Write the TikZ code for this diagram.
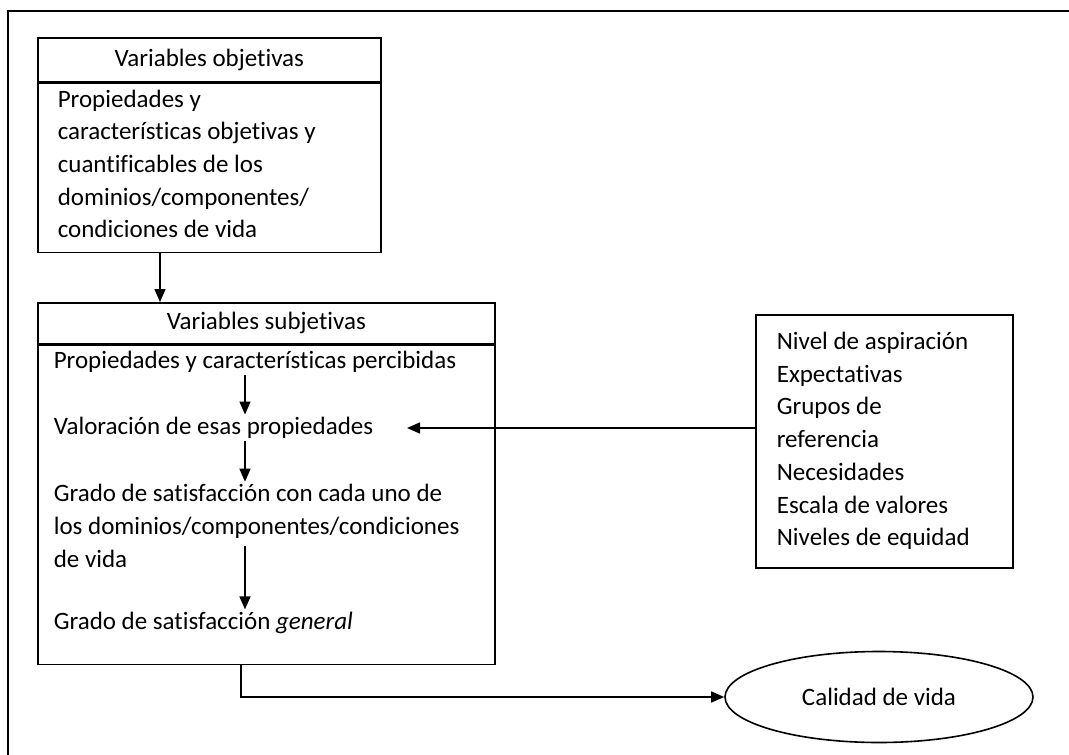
\documentclass[tikz,border=0pt]{standalone}
\usepackage{fontspec}
\setmainfont{Carlito}[Ligatures=NoCommon]
\usetikzlibrary{arrows.meta,shapes.geometric}
\begin{document}
\begin{tikzpicture}[x=1pt, y=-1pt, line width=1.6pt,
  every node/.style={font=\fontsize{25}{32.7}\selectfont},
  caja/.style={draw, anchor=north west, inner sep=0pt},
  texto/.style={anchor=west, align=left, inner sep=2pt},
  flecha/.style={-{Triangle[length=13pt,width=11pt]}, line width=1.4pt}]
	\useasboundingbox (0,0) rectangle (1069,755);
	\draw (1069,11) -- (8,11) -- (8,755);
	\node[caja, minimum width=343pt, minimum height=44pt] (hobj) at (37,37) {Variables objetivas};
	\node[caja, minimum width=343pt, minimum height=169pt] (bobj) at (hobj.south west) {};
	\node[texto] (tobj) at (55,164) {Propiedades y\\características objetivas y\\cuantificables de los\\dominios/componentes/\\condiciones de vida};
	\node[caja, minimum width=457pt, minimum height=41pt] (hsub) at (37,302) {Variables subjetivas};
	\node[caja, minimum width=457pt, minimum height=319pt] (bsub) at (hsub.south west) {};
	\node[texto] (p1) at (51,362) {Propiedades y características percibidas};
	\node[texto] (p2) at (51,428) {Valoración de esas propiedades};
	\node[texto] (p3) at (51,526) {Grado de satisfacción con cada uno de\\los dominios/componentes/condiciones\\de vida};
	\node[texto] (p4) at (51,623) {Grado de satisfacción \textit{general}};
	\node[caja, minimum width=257pt, minimum height=253pt] (fac) at (755,314) {};
	\node[texto] (tfac) at (774,441) {Nivel de aspiración\\Expectativas\\Grupos de\\referencia\\Necesidades\\Escala de valores\\Niveles de equidad};
	\node[draw, ellipse, minimum width=308pt, minimum height=91pt, inner sep=0pt] (cal) at (879,697) {Calidad de vida};
	\coordinate (eje) at (245,0);
	\coordinate (sal) at (241,0);
	\coordinate (ent) at (160,0);
	\path (p3.south -| eje) ++(0,-24) coordinate (q3);
	\draw[flecha] (bobj.south -| ent) -- (hsub.north -| ent);
	\draw[flecha] (p1.south -| eje) -- (p2.north -| eje);
	\draw[flecha] (p2.south -| eje) -- (p3.north -| eje);
	\draw[flecha] (q3) -- (p4.north -| eje);
	\draw[flecha] (fac.west |- p2.east) -- ([xshift=31pt]p2.east);
	\draw[flecha] (bsub.south -| sal) |- (cal.west);
\end{tikzpicture}
\end{document}
